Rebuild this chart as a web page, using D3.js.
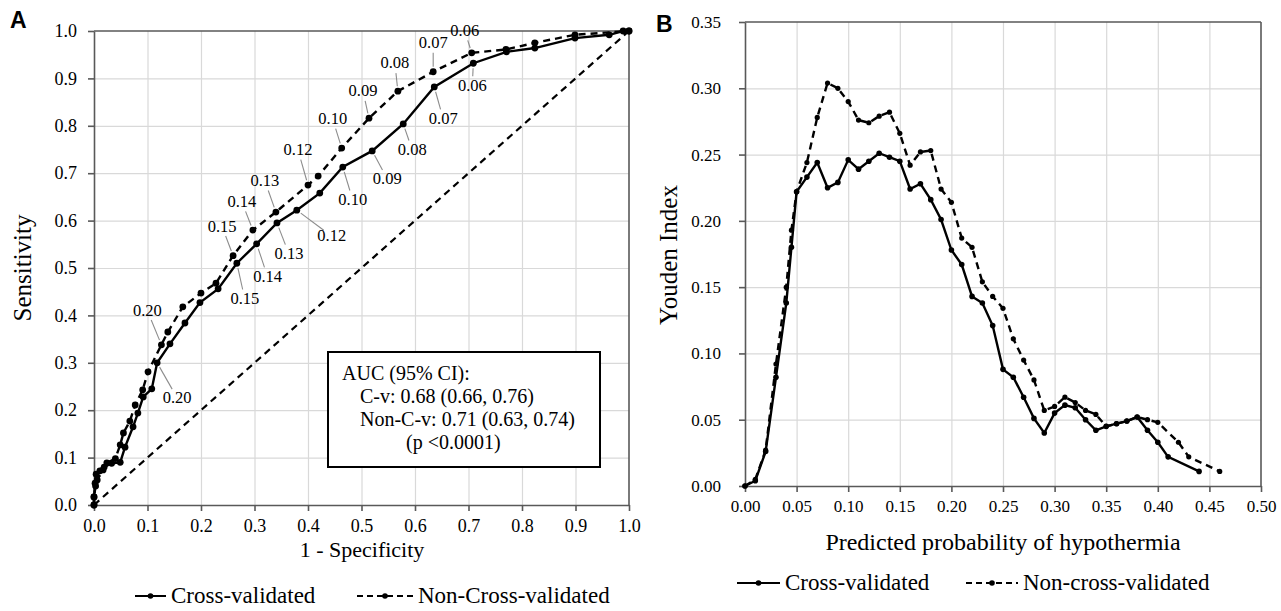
<!DOCTYPE html>
<html>
<head>
<meta charset="utf-8">
<script src="https://cdn.jsdelivr.net/npm/d3@7"></script>
<style>
  body { margin: 0; background: #fff; }
  text { font-family: "Liberation Serif", "Times New Roman", serif; fill: #000; }
  text.panel { font-family: "Liberation Sans", Arial, sans-serif; font-weight: bold; }
  .grid line { stroke: #d9d9d9; stroke-width: 1.2; }
  .grid path { display: none; }
  .axis path, .axis line { stroke: #595959; stroke-width: 1.6; }
</style>
</head>
<body>
<svg id="chart" width="1281" height="611"></svg>
<script>
// ---- panel A: ROC curves ----
const cvFpr  = [0, 0, 0.002, 0.004, 0.011, 0.019, 0.033, 0.049, 0.058, 0.073, 0.082, 0.092, 0.108, 0.118, 0.142, 0.170, 0.198, 0.232, 0.267, 0.304, 0.342, 0.379, 0.422, 0.465, 0.520, 0.578, 0.636, 0.709, 0.771, 0.824, 0.899, 0.963, 0.989, 1];
const cvSens = [0, 0.017, 0.046, 0.065, 0.072, 0.080, 0.088, 0.090, 0.122, 0.165, 0.194, 0.228, 0.245, 0.300, 0.340, 0.384, 0.427, 0.456, 0.510, 0.551, 0.595, 0.622, 0.658, 0.713, 0.747, 0.804, 0.882, 0.932, 0.956, 0.964, 0.985, 0.992, 1, 1];
const ncvFpr  = [0, 0, 0.003, 0.006, 0.017, 0.024, 0.040, 0.049, 0.055, 0.067, 0.077, 0.091, 0.101, 0.126, 0.138, 0.166, 0.200, 0.228, 0.260, 0.297, 0.340, 0.400, 0.419, 0.463, 0.514, 0.568, 0.634, 0.706, 0.770, 0.824, 0.899, 1];
const ncvSens = [0, 0.017, 0.040, 0.053, 0.074, 0.089, 0.098, 0.127, 0.152, 0.177, 0.211, 0.243, 0.281, 0.338, 0.365, 0.418, 0.447, 0.468, 0.526, 0.580, 0.618, 0.675, 0.694, 0.753, 0.816, 0.873, 0.914, 0.954, 0.961, 0.975, 0.992, 1];

// cut-off labels and the point index they belong to
const cutLabels = ['0.20', '0.15', '0.14', '0.13', '0.12', '0.10', '0.09', '0.08', '0.07', '0.06'];
const cvCutIndex  = [13, 18, 19, 20, 21, 23, 24, 25, 26, 27];
const ncvCutIndex = [13, 18, 19, 20, 21, 23, 24, 25, 26, 27];

const aucLines = ['AUC (95% CI):', 'C-v: 0.68 (0.66, 0.76)', 'Non-C-v: 0.71 (0.63, 0.74)', '(p <0.0001)'];
const rocTicks = [0, 0.1, 0.2, 0.3, 0.4, 0.5, 0.6, 0.7, 0.8, 0.9, 1.0];

// ---- panel B: Youden index ----
const cvProb   = [0.00, 0.01, 0.02, 0.03, 0.04, 0.045, 0.05, 0.06, 0.07, 0.08, 0.09, 0.10, 0.11, 0.12, 0.13, 0.14, 0.15, 0.16, 0.17, 0.18, 0.19, 0.20, 0.21, 0.22, 0.23, 0.24, 0.25, 0.26, 0.27, 0.28, 0.29, 0.30, 0.31, 0.32, 0.33, 0.34, 0.35, 0.36, 0.37, 0.38, 0.39, 0.40, 0.41, 0.44];
const cvYouden = [0.000, 0.004, 0.026, 0.082, 0.138, 0.180, 0.222, 0.233, 0.244, 0.225, 0.229, 0.246, 0.239, 0.245, 0.251, 0.248, 0.245, 0.224, 0.228, 0.216, 0.201, 0.178, 0.167, 0.143, 0.138, 0.121, 0.088, 0.082, 0.067, 0.051, 0.040, 0.055, 0.061, 0.059, 0.050, 0.042, 0.045, 0.047, 0.049, 0.052, 0.042, 0.033, 0.022, 0.011];
const ncvProb   = [0.00, 0.01, 0.02, 0.03, 0.04, 0.045, 0.05, 0.06, 0.07, 0.08, 0.09, 0.10, 0.11, 0.12, 0.13, 0.14, 0.15, 0.16, 0.17, 0.18, 0.19, 0.20, 0.21, 0.22, 0.23, 0.24, 0.25, 0.26, 0.27, 0.28, 0.29, 0.30, 0.31, 0.32, 0.33, 0.34, 0.35, 0.36, 0.37, 0.38, 0.39, 0.40, 0.42, 0.43, 0.46];
const ncvYouden = [0.000, 0.005, 0.027, 0.092, 0.150, 0.193, 0.222, 0.244, 0.278, 0.304, 0.300, 0.290, 0.276, 0.274, 0.279, 0.282, 0.266, 0.242, 0.252, 0.253, 0.224, 0.214, 0.187, 0.180, 0.154, 0.143, 0.134, 0.111, 0.095, 0.080, 0.057, 0.060, 0.067, 0.063, 0.057, 0.054, 0.045, 0.047, 0.049, 0.052, 0.050, 0.048, 0.033, 0.022, 0.011];
const probTicks   = [0, 0.05, 0.10, 0.15, 0.20, 0.25, 0.30, 0.35, 0.40, 0.45, 0.50];
const youdenTicks = [0, 0.05, 0.10, 0.15, 0.20, 0.25, 0.30, 0.35];

const seriesNames = ['Cross-validated', 'Non-Cross-validated', 'Non-cross-validated'];

// label offsets (px) from their point: cv below-right, ncv above-left
const cvLabelOffset  = [[20, 35], [8, 36], [11, 33], [12, 31], [35, 26], [10, 33], [15, 28], [9, 26], [9, 32], [-1, 23]];
const ncvLabelOffset = [[-14, -34], [-11, -29], [-11, -28], [-11, -31], [-10, -35], [-9, -29], [-6, -27], [-3, -28], [0, -29], [-7, -22]];

const DASH = '7,5';
const svg = d3.select('svg#chart');
const zip = (a, b) => a.map((v, i) => [v, b[i]]);

function frame(x, y, xt, yt, fx, fy, yPad, fontSize) {
    const [x0, x1] = x.range();
    const [y0, y1] = y.range();

    // grid
    svg.append('g').attr('class', 'grid')
        .attr('transform', `translate(0,${y0})`)
        .call(d3.axisBottom(x).tickValues(xt.slice(1, -1)).tickSize(-(y0 - y1)).tickFormat(''));
    svg.append('g').attr('class', 'grid')
        .attr('transform', `translate(${x0},0)`)
        .call(d3.axisLeft(y).tickValues(yt.slice(1, -1)).tickSize(-(x1 - x0)).tickFormat(''));

    // top / right border
    svg.append('line').attr('x1', x0).attr('x2', x1).attr('y1', y1).attr('y2', y1)
        .attr('stroke', '#595959').attr('stroke-width', 1.6);
    svg.append('line').attr('x1', x1).attr('x2', x1).attr('y1', y1).attr('y2', y0)
        .attr('stroke', '#595959').attr('stroke-width', 1.6);

    const ax = svg.append('g').attr('class', 'axis')
        .attr('transform', `translate(0,${y0})`)
        .call(d3.axisBottom(x).tickValues(xt).tickSize(6).tickSizeOuter(0).tickPadding(8).tickFormat(fx));
    const ay = svg.append('g').attr('class', 'axis')
        .attr('transform', `translate(${x0},0)`)
        .call(d3.axisLeft(y).tickValues(yt).tickSize(6).tickSizeOuter(0).tickPadding(yPad).tickFormat(fy));
    [ax, ay].forEach(a => a.selectAll('text')
        .attr('font-family', null).attr('font-size', fontSize).attr('fill', '#000'));
}

function series(x, y, pts, dashed, r) {
    const line = d3.line().x(d => x(d[0])).y(d => y(d[1]));
    svg.append('path').datum(pts)
        .attr('d', line)
        .attr('fill', 'none')
        .attr('stroke', '#000')
        .attr('stroke-width', 2.4)
        .attr('stroke-dasharray', dashed ? DASH : null);
    svg.append('g').selectAll('circle')
        .data(pts)
        .enter().append('circle')
            .attr('cx', d => x(d[0]))
            .attr('cy', d => y(d[1]))
            .attr('r', r)
            .attr('fill', '#000');
}

function legendItem(x, y, w, dashed, label) {
    svg.append('line').attr('x1', x).attr('x2', x + w).attr('y1', y).attr('y2', y)
        .attr('stroke', '#000').attr('stroke-width', 2)
        .attr('stroke-dasharray', dashed ? '6,4' : null);
    svg.append('circle').attr('cx', x + w / 2).attr('cy', y).attr('r', 2.8).attr('fill', '#000');
    svg.append('text').attr('x', x + w + 5).attr('y', y + 7).attr('font-size', 23).text(label);
}

// ================= Panel A =================
const xA = d3.scaleLinear().domain([0, 1]).range([94, 629]);
const yA = d3.scaleLinear().domain([0, 1]).range([505, 31]);
frame(xA, yA, rocTicks, rocTicks, d3.format('.1f'), d3.format('.1f'), 11, 18);

// chance line
svg.append('path').datum([[0, 0], [1, 1]])
    .attr('d', d3.line().x(d => xA(d[0])).y(d => yA(d[1])))
    .attr('fill', 'none').attr('stroke', '#000').attr('stroke-width', 2.2)
    .attr('stroke-dasharray', DASH);

const cvPts = zip(cvFpr, cvSens);
const ncvPts = zip(ncvFpr, ncvSens);
series(xA, yA, ncvPts, true, 3.4);
series(xA, yA, cvPts, false, 3.4);

function cutoffLabels(pts, idx, offs) {
    idx.forEach((k, i) => {
        const px = xA(pts[k][0]), py = yA(pts[k][1]);
        const [dx, dy] = offs[i];
        const len = Math.hypot(dx, dy);
        const ux = dx / len, uy = dy / len;
        svg.append('line')
            .attr('x1', px + ux * 5).attr('y1', py + uy * 5)
            .attr('x2', px + dx - ux * 10).attr('y2', py + dy - uy * 10)
            .attr('stroke', '#8c8c8c').attr('stroke-width', 1.1);
        svg.append('text')
            .attr('x', px + dx).attr('y', py + dy + 5)
            .attr('text-anchor', 'middle')
            .attr('font-size', 16.5)
            .attr('fill', '#333')
            .text(cutLabels[i]);
    });
}
cutoffLabels(ncvPts, ncvCutIndex, ncvLabelOffset);
cutoffLabels(cvPts, cvCutIndex, cvLabelOffset);

// AUC box
svg.append('rect').attr('x', 328).attr('y', 352).attr('width', 272).attr('height', 115)
    .attr('fill', '#fff').attr('stroke', '#000').attr('stroke-width', 2);
const aucX = [342, 360, 360, 406];
svg.selectAll('text.auc')
    .data(aucLines)
    .enter().append('text')
        .attr('class', 'auc')
        .attr('x', (d, i) => aucX[i])
        .attr('y', (d, i) => 380 + i * 23)
        .attr('font-size', 20)
        .text(d => d);

svg.append('text').attr('x', 362).attr('y', 557).attr('text-anchor', 'middle')
    .attr('font-size', 22).text('1 - Specificity');
svg.append('text').attr('transform', 'translate(31,268) rotate(-90)').attr('text-anchor', 'middle')
    .attr('font-size', 25).text('Sensitivity');
svg.append('text').attr('class', 'panel').attr('x', 10).attr('y', 28)
    .attr('font-size', 23).text('A');
legendItem(135, 596, 31, false, seriesNames[0]);
legendItem(357, 596, 56, true, seriesNames[1]);

// ================= Panel B =================
const xB = d3.scaleLinear().domain([0, 0.5]).range([745, 1261]);
const yB = d3.scaleLinear().domain([0, 0.35]).range([486, 22]);
frame(xB, yB, probTicks, youdenTicks, d3.format('.2f'), d3.format('.2f'), 18, 17);

series(xB, yB, zip(ncvProb, ncvYouden), true, 2.6);
series(xB, yB, zip(cvProb, cvYouden), false, 2.8);

svg.append('text').attr('x', 1003).attr('y', 550).attr('text-anchor', 'middle')
    .attr('font-size', 24).text('Predicted probability of hypothermia');
svg.append('text').attr('transform', 'translate(677,255) rotate(-90)').attr('text-anchor', 'middle')
    .attr('font-size', 25).text('Youden Index');
svg.append('text').attr('class', 'panel').attr('x', 656).attr('y', 32)
    .attr('font-size', 23).text('B');
legendItem(737, 583, 43, false, seriesNames[0]);
legendItem(966, 583, 52, true, seriesNames[2]);
</script>
</body>
</html>
